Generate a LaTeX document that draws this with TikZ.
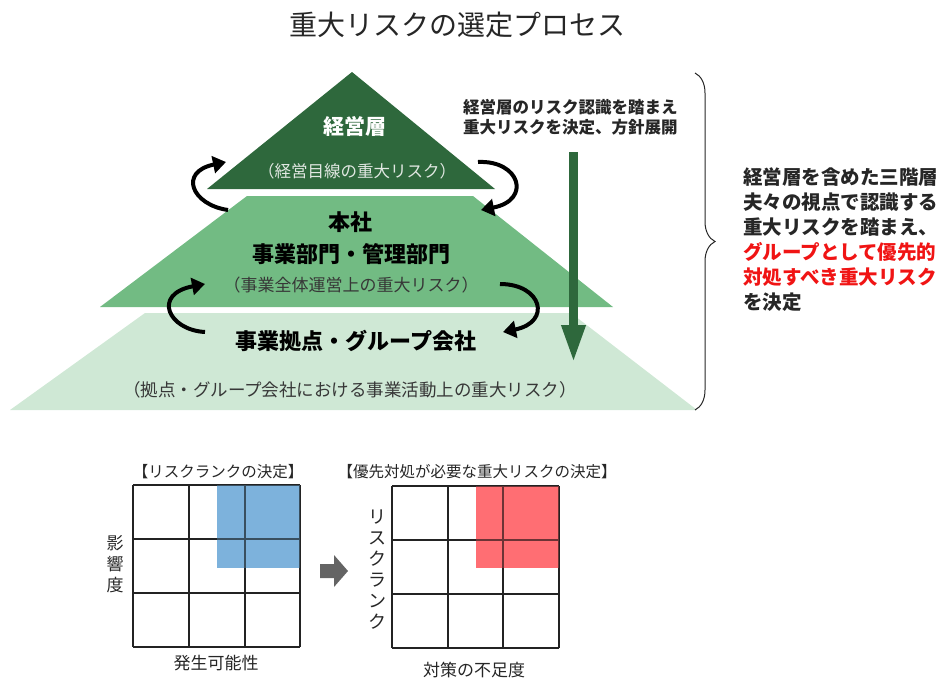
\documentclass[tikz,border=0pt]{standalone}
\usepackage{fontspec}
\setmainfont{Noto Sans CJK JP}
\usetikzlibrary{arrows.meta,decorations.pathreplacing}
\definecolor{dgreen}{RGB}{46,104,60}
\definecolor{mgreen}{RGB}{114,187,131}
\definecolor{lgreen}{RGB}{207,232,213}
\definecolor{txtgray}{RGB}{55,55,55}
\definecolor{lighttxt}{RGB}{225,232,226}
\definecolor{blueq}{RGB}{102,165,214}
\definecolor{redq}{RGB}{255,85,91}
\definecolor{arrgray}{RGB}{100,100,100}
\definecolor{redtxt}{RGB}{240,20,20}
\definecolor{gridc}{RGB}{35,35,35}
\begin{document}
\begin{tikzpicture}[x=1pt,y=-1pt,
  lbl/.style={inner sep=0pt,anchor=center},
  boldlbl/.style={lbl,font=\fontsize{22pt}{26pt}\selectfont\bfseries,text=black},
  paren/.style={lbl,font=\fontsize{17pt}{20pt}\selectfont,text=txtgray},
  curvarrow/.style={line width=4pt,black,-{Triangle[width=17pt,length=13pt]}},
  gridline/.style={line width=1.3pt,gridc},
  overline/.style={line width=1.3pt,gridc,opacity=0.6},
  small/.style={lbl,font=\fontsize{15.5pt}{18pt}\selectfont,text=black!85},
  axis/.style={lbl,font=\fontsize{17pt}{21pt}\selectfont,text=black!85,align=center}
]
\useasboundingbox (0,0) rectangle (946,680);

% title
\node[lbl,font=\fontsize{28pt}{32pt}\selectfont,text=black!85] (title) at (457,25) {重大リスクの選定プロセス};

% pyramid
\fill[lgreen] (145,313) -- (571,313) -- (697,410) -- (10,410) -- cycle;
\fill[mgreen] (247,196) -- (473,196) -- (613,307) -- (100,307) -- cycle;
\fill[dgreen] (352,72) -- (495,189) -- (207,189) -- cycle;

\node[lbl,font=\fontsize{21pt}{25pt}\selectfont\bfseries,text=white] (top) at (355,126) {経営層};
\node[lbl,font=\fontsize{16.5pt}{20pt}\selectfont,text=lighttxt] (topsub) at (357,171) {（経営目線の重大リスク）};
\node[boldlbl] (mid1) at (350,222) {本社};
\node[boldlbl] (mid2) at (351,254) {事業部門・管理部門};
\node[paren] (midsub) at (351,285) {（事業全体運営上の重大リスク）};
\node[boldlbl] (bot) at (356,341) {事業拠点・グループ会社};
\node[paren,font=\fontsize{17.5pt}{20pt}\selectfont] (botsub) at (350,390) {（拠点・グループ会社における事業活動上の重大リスク）};

% curved arrows
\coordinate (a1s) at (228,210); \coordinate (a1e) at (226,162);
\coordinate (a2s) at (205,332); \coordinate (a2e) at (205,284);
\coordinate (a3s) at (478,162); \coordinate (a3e) at (481,210);
\coordinate (a4s) at (500,284); \coordinate (a4e) at (503,332);
\draw[curvarrow] (a1s) .. controls (192,205) and (178,172) .. (a1e);
\draw[curvarrow] (a2s) .. controls (168,330) and (152,294) .. (a2e);
\draw[curvarrow] (a3s) .. controls (520,160) and (532,200) .. (a3e);
\draw[curvarrow] (a4s) .. controls (542,284) and (552,322) .. (a4e);

% down arrow
\coordinate (g1) at (573.5,152); \coordinate (g2) at (573.5,363);
\draw[dgreen,line width=9pt,-{Triangle[width=22pt,length=38pt]}] (g1) -- (g2);

\node[inner sep=0pt,anchor=north west,align=left,font=\fontsize{16.5pt}{20pt}\selectfont\bfseries,text=black!85] (note1) at (463,99.5) {経営層のリスク認識を踏まえ\\重大リスクを決定、方針展開};

% brace
\coordinate (b1) at (695,73); \coordinate (b2) at (695,410);
\draw[line width=1pt,black!85,decorate,decoration={brace,amplitude=20pt}] (b1) -- (b2);

\node[inner sep=0pt,anchor=north west,align=left,font=\fontsize{19.5pt}{25pt}\selectfont\bfseries,text=black!85] (note2) at (743,168) {経営層を含めた三階層\\夫々の視点で認識する\\重大リスクを踏まえ、\\\textcolor{redtxt}{グループとして優先的}\\\textcolor{redtxt}{対処すべき重大リスク}\\を決定};

% left grid
\node[small] (t1) at (218,472) {【リスクランクの決定】};
\foreach \x in {133,189,245,300} \draw[gridline] (\x,485) -- (\x,647);
\foreach \y in {485,539,593,647} \draw[gridline] (133,\y) -- (300,\y);
\fill[blueq,opacity=0.85] (217,485) rectangle (300,568);
\draw[overline] (245,485) -- (245,568) (217,539) -- (300,539) (300,485) -- (300,568) (217,485) -- (300,485);
\node[axis] (ax1) at (115,564) {影\\響\\度};
\node[axis] (ax2) at (216,663) {発生可能性};

% gray arrow
\fill[arrgray] (320,564) -- (334,564) -- (334,555) -- (348,571) -- (334,587) -- (334,578) -- (320,578) -- cycle;
\node[inner sep=0pt] (garrow) at (334,571) {};

% right grid
\node[small] (t2) at (477,472) {【優先対処が必要な重大リスクの決定】};
\foreach \x in {392,448,503,559} \draw[gridline] (\x,486) -- (\x,648);
\foreach \y in {486,540,594,648} \draw[gridline] (392,\y) -- (559,\y);
\fill[redq,opacity=0.85] (476,486) rectangle (559,568);
\draw[overline] (503,486) -- (503,568) (476,540) -- (559,540) (559,486) -- (559,568) (476,486) -- (559,486);
\node[axis,font=\fontsize{18pt}{21pt}\selectfont] (ax3) at (377,570) {リ\\ス\\ク\\ラ\\ン\\ク};
\node[axis] (ax4) at (474,670) {対策の不足度};
\end{tikzpicture}
\end{document}
